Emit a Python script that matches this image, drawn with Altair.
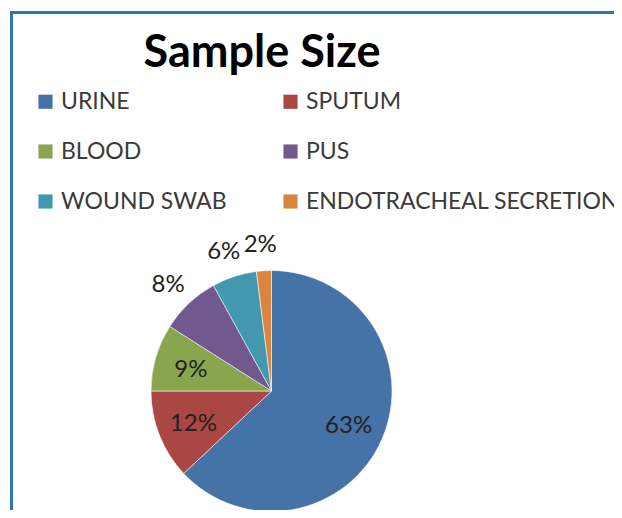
import altair as alt
import pandas as pd

TITLE = "Sample Size"
categories = ["URINE", "SPUTUM", "BLOOD", "PUS", "WOUND SWAB", "ENDOTRACHEAL SECRETIONS"]
values = [63, 12, 9, 8, 6, 2]
colors = ["#4572A7", "#AA4643", "#89A54E", "#71588F", "#4198AF", "#DB843D"]

df = pd.DataFrame({
    "cat": categories,
    "value": values,
    "idx": list(range(len(categories))),
})

# legend is laid out column by column: reorder so it reads row by row
legend_order = categories[0::2] + categories[1::2]
legend_colors = colors[0::2] + colors[1::2]

W, H = 606, 502
CX, CY, R = 263.5, 383, 120.5
FONT = "Lato"

one = pd.DataFrame({"t": [TITLE]})

border_top = alt.Chart(one).mark_rule(color="#2E75B6", strokeWidth=3).encode(
    x=alt.value(2), x2=alt.value(W), y=alt.value(4.5)
)
border_left = alt.Chart(one).mark_rule(color="#2E75B6", strokeWidth=3).encode(
    x=alt.value(3.5), y=alt.value(3), y2=alt.value(H)
)

title = alt.Chart(one).mark_text(
    font=FONT, fontSize=45, fontWeight="bold", color="#000000",
    align="center", baseline="alphabetic"
).encode(x=alt.value(254), y=alt.value(59), text="t:N")

base = alt.Chart(df).encode(
    theta=alt.Theta("value:Q", stack=True),
    order=alt.Order("idx:Q"),
)

pie = base.mark_arc(outerRadius=R, stroke="#ffffff", strokeWidth=0.8, strokeOpacity=0.7).encode(
    x=alt.value(CX), y=alt.value(CY),
    color=alt.Color(
        "cat:N",
        scale=alt.Scale(domain=legend_order, range=legend_colors),
        legend=alt.Legend(
            title=None, orient="none", legendX=26, legendY=82, columns=2,
            symbolType="square", symbolSize=200, symbolStrokeWidth=0,
            labelFont=FONT, labelFontSize=23, labelColor="#3a3a3a",
            labelLimit=1000, rowPadding=26, columnPadding=52, labelOffset=4,
        ),
    ),
)

inner = base.transform_calculate(
    lab="datum.value >= 9 ? datum.value + '%' : ''"
).mark_text(font=FONT, fontSize=24, color="#222222", radius=84).encode(
    x=alt.value(CX), y=alt.value(CY + 2), text="lab:N"
)
outer = base.transform_calculate(
    lab="datum.value < 9 ? datum.value + '%' : ''"
).mark_text(font=FONT, fontSize=24, color="#222222", radius=148).encode(
    x=alt.value(CX - 2), y=alt.value(CY + 2), text="lab:N"
)

chart = alt.layer(border_top, border_left, title, pie, inner, outer).properties(
    width=W, height=H, padding=0,
    autosize=alt.AutoSizeParams(type="none"),
).configure_view(stroke=None)

chart.save("out.html", embed_options={"renderer": "svg", "actions": False})
